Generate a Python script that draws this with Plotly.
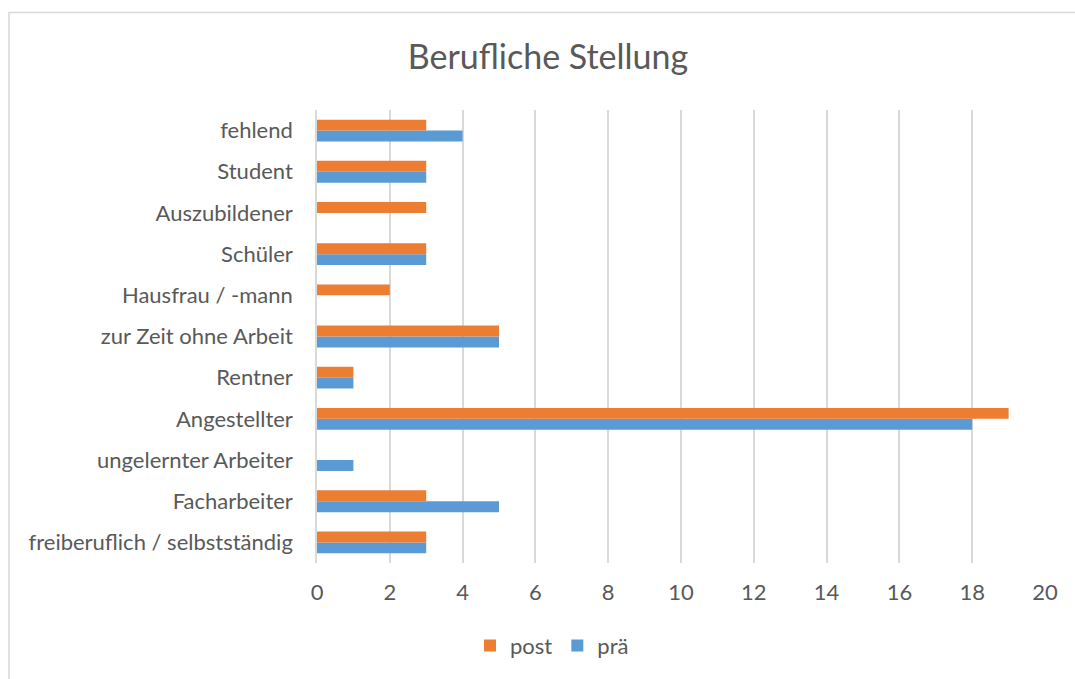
import plotly.graph_objects as go

categories = ["freiberuflich / selbstständig", "Facharbeiter", "ungelernter Arbeiter",
              "Angestellter", "Rentner", "zur Zeit ohne Arbeit", "Hausfrau / -mann",
              "Schüler", "Auszubildener", "Student", "fehlend"]
post_values = [3, 3, 0, 19, 1, 5, 2, 3, 3, 3, 3]
prae_values = [3, 5, 1, 18, 1, 5, 0, 3, 0, 3, 4]
x_ticks = [0, 2, 4, 6, 8, 10, 12, 14, 16, 18, 20]

FONT = "Lato, Carlito, Calibri, sans-serif"
TXT = "#595959"

fig = go.Figure()
fig.add_trace(go.Bar(y=categories, x=prae_values, name="prä", orientation="h",
                     marker=dict(color="#5B9BD5", line=dict(width=0))))
fig.add_trace(go.Bar(y=categories, x=post_values, name="post", orientation="h",
                     marker=dict(color="#ED7D31", line=dict(width=0))))

W, H = 1075, 679
L, R, T, B = 317, 1045, 110, 565
fig.update_layout(
    width=W, height=H,
    margin=dict(l=L, r=W - R, t=T, b=H - B),
    paper_bgcolor="white", plot_bgcolor="white",
    barmode="group", bargap=0.47, bargroupgap=0,
    font=dict(family=FONT, color=TXT, size=22),
    title=dict(text="Berufliche Stellung", x=548 / W, xref="container", xanchor="center",
               y=1 - 57 / H, yref="container", yanchor="middle",
               font=dict(size=34, color=TXT, family=FONT)),
    xaxis=dict(range=[0, 20], tickvals=x_ticks, showgrid=True, gridcolor="#d9d9d9",
               gridwidth=1.5, zeroline=False, showline=False, ticks="",
               tickfont=dict(size=22, color=TXT), ticklabelstandoff=14),
    yaxis=dict(categoryorder="array", categoryarray=categories, showgrid=False,
               zeroline=False, showline=True, linecolor="#d9d9d9", linewidth=1.5,
               ticks="", tickfont=dict(size=22, color=TXT), ticklabelstandoff=18),
    legend=dict(orientation="h", x=(552 - L) / (R - L), xanchor="center",
                y=(B - 648) / (B - T), yanchor="middle", traceorder="reversed",
                font=dict(size=22, color=TXT), itemwidth=30),
    showlegend=True,
)

px = lambda p: (p - L) / (R - L)
py = lambda p: (B - p) / (B - T)
fig.add_shape(type="rect", xref="paper", yref="paper",
              x0=px(9), x1=px(1090), y0=py(700), y1=py(12),
              line=dict(color="#d9d9d9", width=1.5), fillcolor="rgba(0,0,0,0)", layer="below")

fig.write_html("out.html", config={"displayModeBar": False},
               post_script="document.body.style.margin='0';document.body.style.overflow='hidden';")
